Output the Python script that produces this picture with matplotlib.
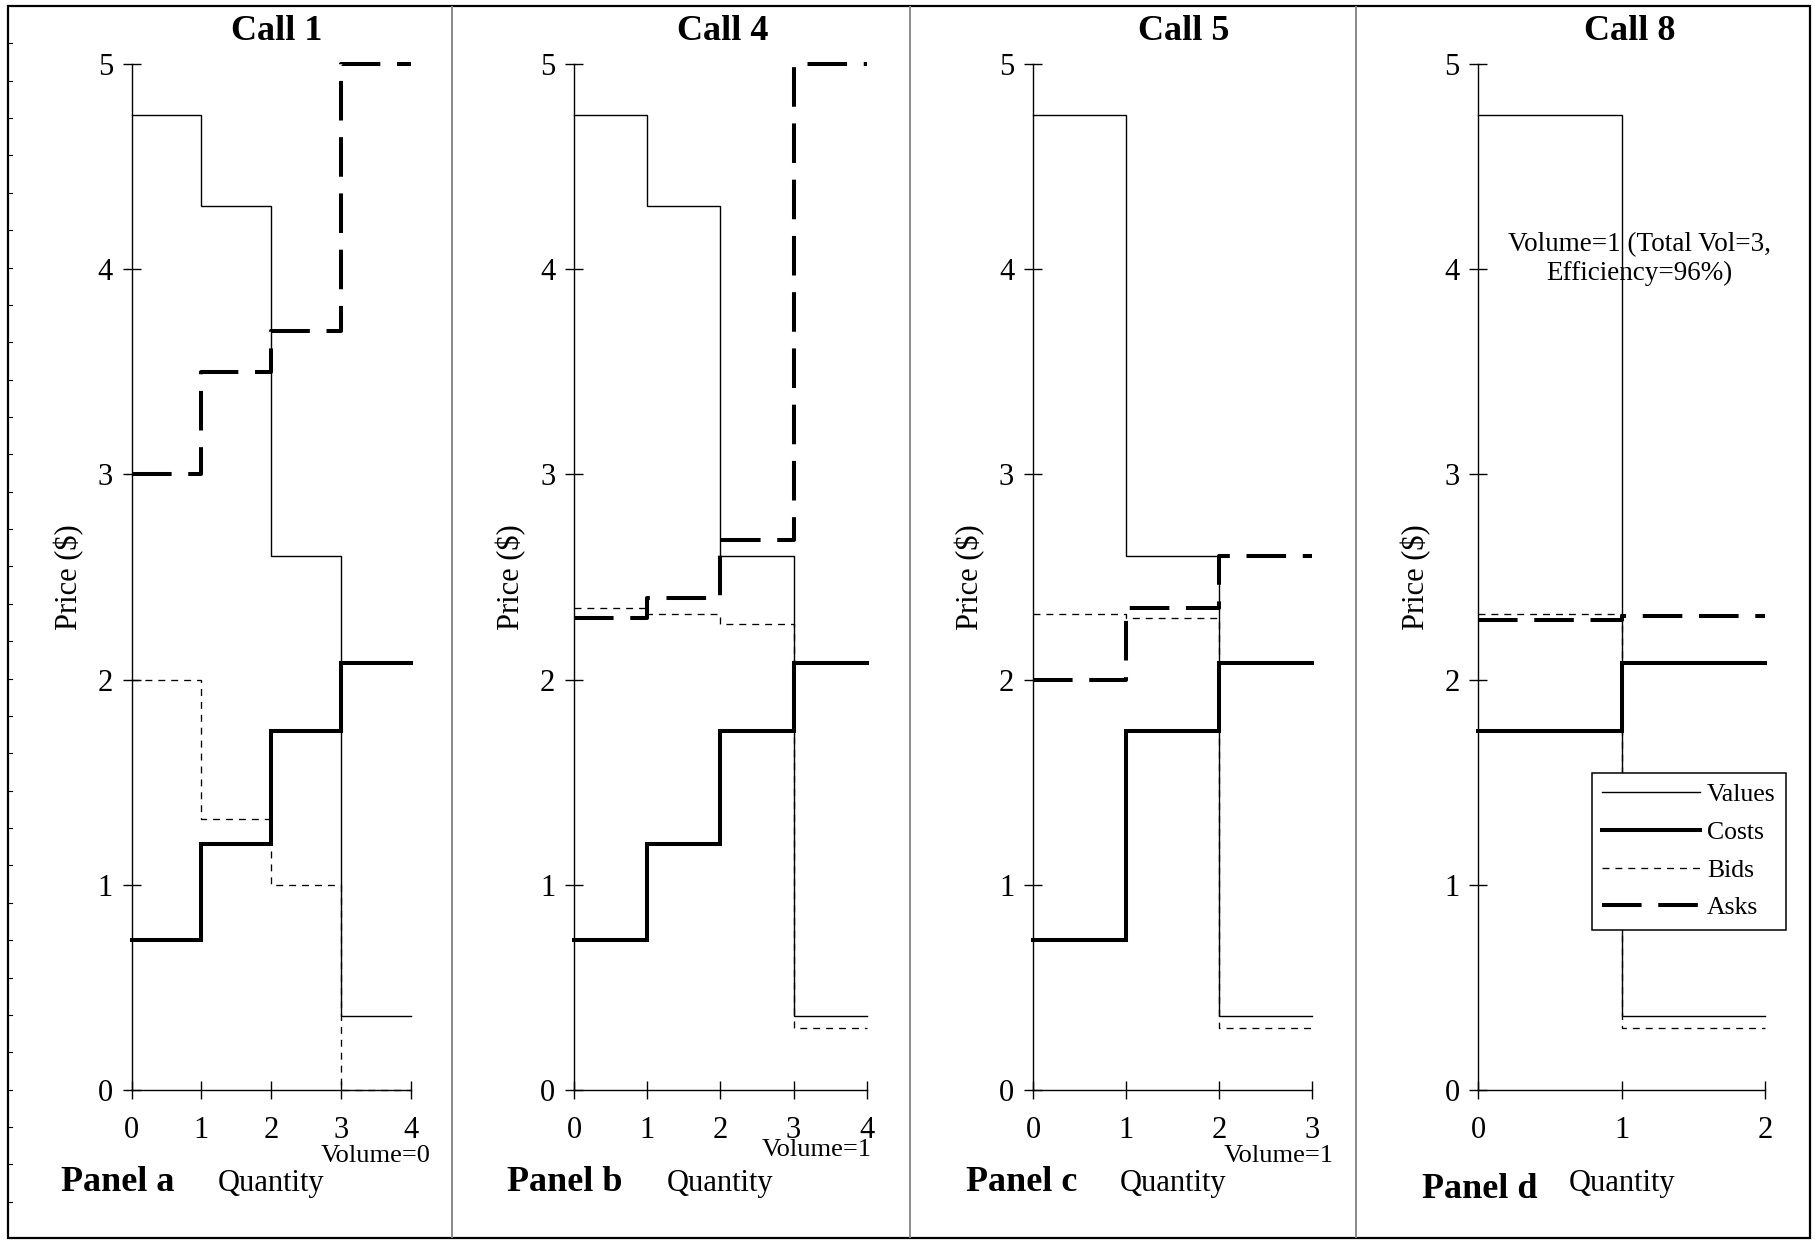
import matplotlib
matplotlib.use('Agg')
import matplotlib.pyplot as plt
from matplotlib.lines import Line2D
from matplotlib.patches import Rectangle

plt.rcParams['font.family'] = ['Liberation Serif', 'DejaVu Serif']
plt.rcParams['lines.scale_dashes'] = False

# ---------------- data ----------------
call_titles = ['Call 1', 'Call 4', 'Call 5', 'Call 8']
panel_labels = ['Panel a', 'Panel b', 'Panel c', 'Panel d']
volume_notes = ['Volume=0', 'Volume=1', 'Volume=1',
                'Volume=1 (Total Vol=3,\nEfficiency=96%)']
series_names = ['Values', 'Costs', 'Bids', 'Asks']

values_a = [4.75, 4.31, 2.60, 0.36]
costs_a = [0.73, 1.20, 1.75, 2.08]
bids_a = [2.00, 1.32, 1.00, 0.00]
asks_a = [3.00, 3.50, 3.70, 5.00]

values_b = [4.75, 4.31, 2.60, 0.36]
costs_b = [0.73, 1.20, 1.75, 2.08]
bids_b = [2.35, 2.32, 2.27, 0.30]
asks_b = [2.30, 2.40, 2.68, 5.00]

values_c = [4.75, 2.60, 0.36]
costs_c = [0.73, 1.75, 2.08]
bids_c = [2.32, 2.30, 0.30]
asks_c = [2.00, 2.35, 2.60]

values_d = [4.75, 0.36]
costs_d = [1.75, 2.08]
bids_d = [2.32, 0.30]
asks_d = [2.29, 2.31]

price_ticks = [0, 1, 2, 3, 4, 5]

panels = [
    (values_a, costs_a, bids_a, asks_a),
    (values_b, costs_b, bids_b, asks_b),
    (values_c, costs_c, bids_c, asks_c),
    (values_d, costs_d, bids_d, asks_d),
]

# ---------------- layout (pixels) ----------------
W, H = 1818, 1243
fig = plt.figure(figsize=(W / 100, H / 100), dpi=100)

def fx(x):
    return x / W

def fy(y):
    return 1 - y / H

axes_px = [(131.7, 410.7), (574.0, 866.7), (1033.0, 1312.3), (1478.3, 1765.0)]
top_px, bot_px = 64.0, 1090.0
title_x = [277, 722.5, 1184, 1630]
panel_x = [117.8, 564.7, 1021.7, 1479.3]
panel_base = [1191, 1191, 1191, 1198]
vol_pos = [(376, 1161.7), (817, 1156), (1279, 1161.7)]

styles = {
    'Values': dict(color='black', lw=1.0, ls='-', zorder=3),
    'Costs': dict(color='black', lw=2.9, ls='-', zorder=4),
    'Bids': dict(color='black', lw=0.95, ls=(0, (5.0, 4.3)), zorder=5),
    'Asks': dict(color='black', lw=2.9, ls=(0, (28.5, 12.0)), zorder=6),
}

for i, (series, (l, r)) in enumerate(zip(panels, axes_px)):
    ax = fig.add_axes([fx(l), fy(bot_px), (r - l) / W, (bot_px - top_px) / H])
    n = len(series[0])
    qty = list(range(n + 1))
    for name, vals in zip(series_names, series):
        st = styles[name]
        ax.step(qty, list(vals) + [vals[-1]], where='post', color=st['color'],
                lw=st['lw'], ls=st['ls'], zorder=st['zorder'], clip_on=False,
                solid_joinstyle='miter', dash_capstyle='butt')
    ax.set_xlim(0, n)
    ax.set_ylim(0, 5)
    ax.set_xticks(qty)
    ax.set_yticks(price_ticks)
    for s in ['top', 'right']:
        ax.spines[s].set_visible(False)
    for s in ['left', 'bottom']:
        ax.spines[s].set_linewidth(1.0)
        ax.spines[s].set_zorder(2)
    ax.tick_params(axis='both', direction='inout', length=13, width=1.0,
                   labelsize=22, colors='black')
    ax.tick_params(axis='x', pad=12.5)
    ax.tick_params(axis='y', pad=7)
    ax.patch.set_visible(False)

    # y label
    fig.text(fx(l - 62.5), fy((top_px + bot_px) / 2), 'Price ($)', rotation=90,
             ha='center', va='center', fontsize=22)
    # x label
    fig.text(fx((l + r) / 2), fy(1191), 'Quantity', ha='center',
             va='baseline', fontsize=22)
    # title
    fig.text(fx(title_x[i]), fy(40.5), call_titles[i], ha='center',
             va='baseline', fontsize=26, fontweight='bold')
    # panel label
    fig.text(fx(panel_x[i]), fy(panel_base[i]), panel_labels[i], ha='center',
             va='baseline', fontsize=26, fontweight='bold')
    if i < 3:
        vx, vy = vol_pos[i]
        fig.text(fx(vx), fy(vy), volume_notes[i], ha='center', va='baseline',
                 fontsize=19)
    else:
        fig.text(fx(1639), fy(232), volume_notes[i], ha='center', va='top',
                 fontsize=19.5, linespacing=1.22, multialignment='center')
        handles = [Line2D([], [], color='black', lw=styles[nm]['lw'],
                          ls=styles[nm]['ls']) for nm in series_names]
        leg = ax.legend(handles, series_names, loc='upper left',
                        bbox_to_anchor=(fx(1591.7), fy(772.7)),
                        bbox_transform=fig.transFigure, borderaxespad=0,
                        fontsize=18.5, handlelength=3.8, handletextpad=0.26,
                        labelspacing=0.57, borderpad=0.42, fancybox=False,
                        framealpha=1, edgecolor='black', facecolor='white')
        leg.get_frame().set_linewidth(1.1)
        leg.set_zorder(10)

# ---------------- frame & separators ----------------
fig.add_artist(Rectangle((fx(8), fy(1238)), fx(1810) - fx(8), fy(6) - fy(1238),
                         transform=fig.transFigure, fill=False,
                         edgecolor='black', lw=1.6))
for sx in [452, 910, 1356]:
    fig.add_artist(Line2D([fx(sx), fx(sx)], [fy(7), fy(1237)],
                          transform=fig.transFigure, color='#8a8a8a', lw=1.4))
for k in range(32):
    yy = 43.3 + k * 37.37
    fig.add_artist(Line2D([fx(8), fx(12)], [fy(yy), fy(yy)],
                          transform=fig.transFigure, color='black', lw=0.8))

fig.savefig('out.png', dpi=100)
